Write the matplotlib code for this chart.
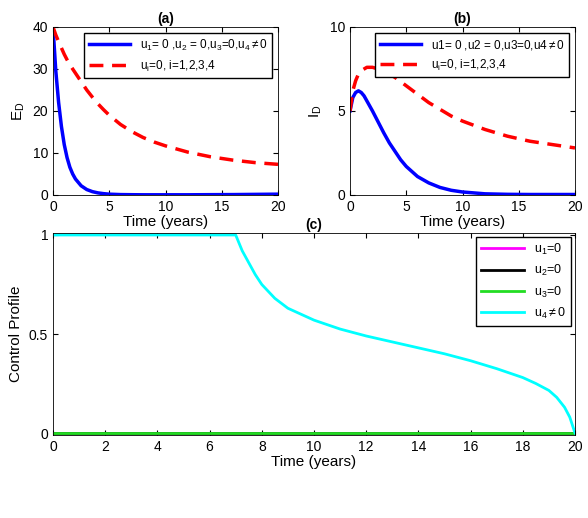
import matplotlib
matplotlib.use("Agg")
import matplotlib.pyplot as plt

plt.rcParams['font.family'] = ['Liberation Sans', 'DejaVu Sans']
plt.rcParams['mathtext.fontset'] = 'custom'
plt.rcParams['mathtext.rm'] = 'Liberation Sans'
plt.rcParams['mathtext.it'] = 'Liberation Sans'

t = [0, 0.25, 0.5, 0.75, 1, 1.25, 1.5, 1.75, 2, 2.5, 3, 3.5, 4, 4.5, 5, 6, 7, 8, 9, 10, 12, 14, 16, 18, 20]
ed_ctrl = [40, 29.5, 22, 16.3, 12, 8.9, 6.6, 5.0, 3.8, 2.2, 1.3, 0.8, 0.5, 0.32, 0.2, 0.1, 0.07, 0.05, 0.05, 0.05, 0.05, 0.08, 0.1, 0.15, 0.2]
ed_none = [40, 38.1, 36.5, 35.0, 33.5, 32.2, 31, 30, 29, 27, 25, 23.3, 21.7, 20.3, 19, 16.8, 15.1, 13.7, 12.6, 11.7, 10.2, 9.1, 8.3, 7.7, 7.3]
id_ctrl = [5, 5.8, 6.1, 6.2, 6.1, 5.9, 5.6, 5.3, 5.0, 4.35, 3.7, 3.1, 2.6, 2.1, 1.7, 1.1, 0.72, 0.45, 0.28, 0.18, 0.07, 0.04, 0.03, 0.03, 0.03]
id_none = [5, 6.2, 6.8, 7.2, 7.4, 7.5, 7.6, 7.6, 7.6, 7.5, 7.4, 7.2, 7.0, 6.75, 6.5, 6.0, 5.5, 5.1, 4.7, 4.4, 3.9, 3.5, 3.2, 3.0, 2.8]

tu = [0, 7, 7.25, 7.5, 7.75, 8, 8.5, 9, 9.5, 10, 11, 12, 13, 14, 15, 16, 17, 18, 18.5, 19, 19.3, 19.6, 19.8, 20]
u4 = [1, 1, 0.92, 0.86, 0.8, 0.75, 0.68, 0.63, 0.6, 0.57, 0.525, 0.49, 0.46, 0.43, 0.40, 0.365, 0.325, 0.28, 0.25, 0.215, 0.18, 0.13, 0.08, 0.0]

fig = plt.figure(figsize=(5.88, 5.18), dpi=100)
ax1 = fig.add_axes([53/588, 1-195/518, 225/588, 168/518])
ax2 = fig.add_axes([350/588, 1-195/518, 225/588, 168/518])
ax3 = fig.add_axes([53/588, 1-435/518, 522/588, 202/518])

def style(ax):
    ax.tick_params(direction='in', top=True, right=True, labelsize=10)
    for s in ax.spines.values():
        s.set_linewidth(0.6)

ax1.plot(t, ed_ctrl, color='blue', lw=2.5, label=r'u$_1$= 0 ,u$_2$ = 0,u$_3$=0,u$_4$$\neq$0')
ax1.plot(t, ed_none, color='red', lw=2.5, ls=(0, (4, 2.5)), label=r'u$_i$=0, i=1,2,3,4')
ax1.set_xlim(0, 20); ax1.set_ylim(0, 40)
ax1.set_xticks([0, 5, 10, 15, 20]); ax1.set_yticks([0, 10, 20, 30, 40])
ax1.set_ylabel(r'E$_D$', fontsize=11)
ax1.set_xlabel('Time (years)', fontsize=11, labelpad=1)
ax1.set_title('(a)', fontsize=10, fontweight='bold', pad=3)
ax1.legend(loc='upper right', fontsize=8.5, fancybox=False, edgecolor='black',
           handlelength=3.5, borderaxespad=0.5, framealpha=1)
style(ax1)

ax2.plot(t, id_ctrl, color='blue', lw=2.5, label=r'u1= 0 ,u2 = 0,u3=0,u4$\neq$0')
ax2.plot(t, id_none, color='red', lw=2.5, ls=(0, (4, 2.5)), label=r'u$_i$=0, i=1,2,3,4')
ax2.set_xlim(0, 20); ax2.set_ylim(0, 10)
ax2.set_xticks([0, 5, 10, 15, 20]); ax2.set_yticks([0, 5, 10])
ax2.set_ylabel(r'I$_D$', fontsize=11)
ax2.set_xlabel('Time (years)', fontsize=11, labelpad=1)
ax2.set_title('(b)', fontsize=10, fontweight='bold', pad=3)
ax2.legend(loc='upper right', fontsize=8.5, fancybox=False, edgecolor='black',
           handlelength=3.5, borderaxespad=0.5, framealpha=1)
style(ax2)

ax3.plot([0, 20], [0, 0], color='magenta', lw=2, label=r'u$_1$=0')
ax3.plot([0, 20], [0, 0], color='black', lw=2, label=r'u$_2$=0')
ax3.plot([0, 20], [0, 0], color='#22dd22', lw=2, label=r'u$_3$=0')
ax3.plot(tu, u4, color='cyan', lw=2, label=r'u$_4$$\neq$0')
ax3.set_xlim(0, 20); ax3.set_ylim(-0.01, 1.01)
ax3.set_xticks(range(0, 21, 2)); ax3.set_yticks([0, 0.5, 1])
ax3.set_yticklabels(['0', '0.5', '1'])
ax3.set_ylabel('Control Profile', fontsize=11)
ax3.set_xlabel('Time (years)', fontsize=11, labelpad=1)
ax3.set_title('(c)', fontsize=10, fontweight='bold', pad=3)
ax3.legend(loc='upper right', fontsize=9, fancybox=False, edgecolor='black',
           handlelength=3.5, borderaxespad=0.3, framealpha=1)
style(ax3)

fig.savefig('out.png', dpi=100)
